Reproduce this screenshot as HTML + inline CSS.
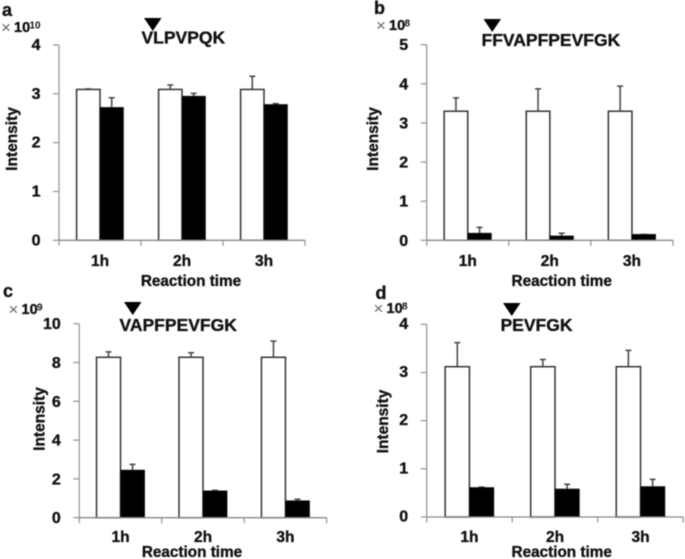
<!DOCTYPE html>
<html lang="en">
<head>
<meta charset="utf-8">
<title>Intensity by reaction time</title>
<style>
html,body{margin:0;padding:0;background:#fff;width:685px;height:559px;overflow:hidden}
svg{display:block;filter:blur(.45px)}
text{font-family:"Liberation Sans",sans-serif;font-weight:700;fill:#111;stroke:#111;stroke-width:.35px}
</style>
</head>
<body>
<svg id="figure" width="685" height="559" viewBox="0 0 685 559" xmlns="http://www.w3.org/2000/svg"></svg>
<script>
const categories = ['1h', '2h', '3h'];

const aTicks = [0, 1, 2, 3, 4];
const aWhite = [3.09, 3.09, 3.09];
const aWhiteErrTop = [3.10, 3.18, 3.36];
const aBlack = [2.72, 2.95, 2.78];
const aBlackErrTop = [2.92, 3.01, 2.80];

const bTicks = [0, 1, 2, 3, 4, 5];
const bWhite = [3.30, 3.30, 3.30];
const bWhiteErrTop = [3.64, 3.87, 3.94];
const bBlack = [0.18, 0.11, 0.15];
const bBlackErrTop = [0.33, 0.18, 0.15];

const cTicks = [0, 2, 4, 6, 8, 10];
const cWhite = [8.27, 8.27, 8.27];
const cWhiteErrTop = [8.55, 8.50, 9.10];
const cBlack = [2.45, 1.38, 0.87];
const cBlackErrTop = [2.75, 1.41, 0.95];

const dTicks = [0, 1, 2, 3, 4];
const dWhite = [3.12, 3.12, 3.12];
const dWhiteErrTop = [3.62, 3.27, 3.46];
const dBlack = [0.61, 0.58, 0.63];
const dBlackErrTop = [0.62, 0.68, 0.78];

const svg = document.getElementById('figure');
const NS = 'http://www.w3.org/2000/svg';

function make(tag, attrs, parent, text) {
  const el = document.createElementNS(NS, tag);
  for (const k in attrs) el.setAttribute(k, attrs[k]);
  if (text !== undefined) el.textContent = text;
  parent.appendChild(el);
  return el;
}

function drawPanel(p) {
  const g = make('g', {}, svg);
  
  

  const maxTick = p.ticks[p.ticks.length - 1];
  const yScale = v => p.bottom - (v / maxTick) * (p.bottom - p.top);
  const band = (p.right - p.left) / categories.length;
  const xCenter = i => p.left + band * (i + 0.5);

  const letter = make('text', {x: p.letterX, y: p.letterY, 'font-size': 18}, g, p.id);
  
  

  const times = make('text', {x: p.multX - 0.5, y: p.multY + 1.2, 'font-size': 17, style: 'font-weight:400;fill:#666;stroke:none'}, g, '×');
  
  
  const mult = make('text', {x: p.multX + 12.5, y: p.multY, 'font-size': 14.5}, g, '10');
  
  
  const exp = make('text', {x: p.multX + 28, y: p.multY - 3.5, 'font-size': 10, style: 'stroke:none'}, g, p.exp);
  
  

  const tri = make('polygon', {points: `${p.triX},${p.triY} ${p.triX + 17.5},${p.triY} ${p.triX + 8.75},${p.triY + 13}`, fill: '#000'}, g);
  
  

  const title = make('text', {x: p.titleX, y: p.titleY, 'font-size': 17.5}, g, p.title);
  
  

  p.ticks.forEach(t => {
    const y = yScale(t);
    const tick = make('line', {x1: p.left - 6, x2: p.left, y1: y, y2: y, stroke: '#999', 'stroke-width': 1.3}, g);
    
    
    const label = make('text', {x: p.left - 18.5, y: y + p.tickDy, 'font-size': 16, 'text-anchor': 'end'}, g, String(t));
    
    
  });

  for (let i = 0; i <= categories.length; i++) {
    const x = p.left + band * i;
    const tick = make('line', {x1: x, x2: x, y1: p.bottom, y2: p.bottom + 5.5, stroke: '#999', 'stroke-width': 1.3}, g);
    
    
  }

  categories.forEach((c, i) => {
    const cx = xCenter(i);
    const whiteX = cx - p.barW;
    const blackX = cx;

    const we = make('path', {d: `M${whiteX + p.barW / 2} ${yScale(p.white[i])}V${yScale(p.whiteErr[i])}m-3 0h6`, stroke: '#444', 'stroke-width': 1.5, fill: 'none'}, g);
    
    
    const be = make('path', {d: `M${blackX + p.barW / 2} ${yScale(p.black[i])}V${yScale(p.blackErr[i])}m-3 0h6`, stroke: '#444', 'stroke-width': 1.5, fill: 'none'}, g);
    
    

    const wb = make('rect', {x: whiteX, y: yScale(p.white[i]), width: p.barW, height: p.bottom - yScale(p.white[i]), fill: '#fff', stroke: '#333', 'stroke-width': 1.5}, g);
    
    
    const bb = make('rect', {x: blackX, y: yScale(p.black[i]), width: p.barW, height: p.bottom - yScale(p.black[i]), fill: '#000', stroke: '#111', 'stroke-width': 0.8}, g);
    
    

    const label = make('text', {x: cx, y: p.catY, 'font-size': 15.5, 'text-anchor': 'middle'}, g, c);
    
    
  });

  const yAxis = make('line', {x1: p.left, x2: p.left, y1: p.top, y2: p.bottom, stroke: '#999', 'stroke-width': 1.3}, g);
  
  
  const xAxis = make('line', {x1: p.left, x2: p.right, y1: p.bottom, y2: p.bottom, stroke: '#888', 'stroke-width': 1.3}, g);
  
  

  const yTitle = make('text', {transform: `translate(${p.yTitleX},${p.yTitleY}) rotate(-90)`, 'font-size': 15.5, 'text-anchor': 'middle'}, g, 'Intensity');
  
  
  const xTitle = make('text', {x: p.xTitleX, y: p.xTitleY, 'font-size': 15.3, 'text-anchor': 'middle'}, g, 'Reaction time');
  
  
}

drawPanel({id: 'a', title: 'VLPVPQK', exp: '10', ticks: aTicks, white: aWhite, whiteErr: aWhiteErrTop, black: aBlack, blackErr: aBlackErrTop,
  left: 59, right: 305, top: 45, bottom: 240.3, barW: 23.4, tickDy: 5, catY: 266, xTitleX: 191, xTitleY: 286, yTitleX: 17, yTitleY: 139,
  letterX: 2, letterY: 16, multX: 1.5, multY: 32, triX: 144, triY: 18, titleX: 141.5, titleY: 43.5});
drawPanel({id: 'b', title: 'FFVAPFPEVFGK', exp: '8', ticks: bTicks, white: bWhite, whiteErr: bWhiteErrTop, black: bBlack, blackErr: bBlackErrTop,
  left: 426.7, right: 673, top: 44.7, bottom: 240.3, barW: 23.6, tickDy: 5.5, catY: 266, xTitleX: 561.7, xTitleY: 286, yTitleX: 378, yTitleY: 139,
  letterX: 374, letterY: 14, multX: 376.5, multY: 30, triX: 483.5, triY: 19, titleX: 481.5, titleY: 46});
drawPanel({id: 'c', title: 'VAPFPEVFGK', exp: '9', ticks: cTicks, white: cWhite, whiteErr: cWhiteErrTop, black: cBlack, blackErr: cBlackErrTop,
  left: 79.3, right: 326.7, top: 323.7, bottom: 517.7, barW: 24, tickDy: 5.5, catY: 542, xTitleX: 192, xTitleY: 557, yTitleX: 44.5, yTitleY: 419,
  letterX: 3, letterY: 297, multX: 9, multY: 314, triX: 124, triY: 302, titleX: 119.5, titleY: 331});
drawPanel({id: 'd', title: 'PEVFGK', exp: '8', ticks: dTicks, white: dWhite, whiteErr: dWhiteErrTop, black: dBlack, blackErr: dBlackErrTop,
  left: 426.7, right: 683.3, top: 324.3, bottom: 517, barW: 24.3, tickDy: 4.5, catY: 542, xTitleX: 561.7, xTitleY: 557, yTitleX: 388, yTitleY: 421.5,
  letterX: 375.5, letterY: 299, multX: 374, multY: 313, triX: 503, triY: 303, titleX: 500.5, titleY: 331});
</script>
</body>
</html>
